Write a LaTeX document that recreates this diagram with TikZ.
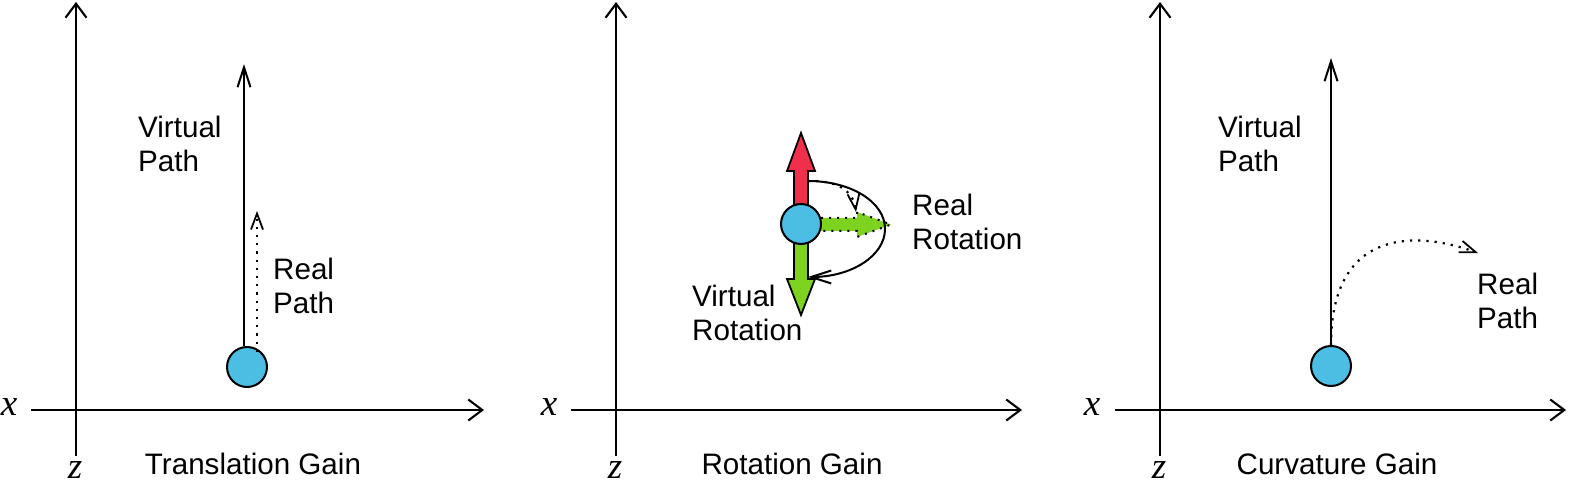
\documentclass[tikz,border=0pt]{standalone}
\usepackage{fontspec}
\setmainfont{Liberation Sans}
\newfontfamily\timesfont{Liberation Serif}
\usetikzlibrary{arrows.meta,calc}
\definecolor{ballblue}{RGB}{76,189,227}
\definecolor{arrred}{RGB}{240,48,75}
\definecolor{arrgreen}{RGB}{126,211,33}
\begin{document}
\begin{tikzpicture}[x=1pt,y=-1pt,
  axisline/.style={line width=2.1pt,-{Straight Barb[length=14pt,width=21pt,line width=2.1pt]}},
  patharrow/.style={line width=2pt,-{Straight Barb[length=20pt,width=13pt,line width=2pt]}},
  dotarrow/.style={line width=2.2pt,dash pattern=on 2.2pt off 6pt,-{Straight Barb[length=16pt,width=12pt,line width=1.8pt]}},
  ball/.style={circle,draw=black,line width=2pt,fill=ballblue,minimum size=40pt,inner sep=0pt},
  blockarrow/.style={draw=black,line width=1.8pt},
  axlabel/.style={font=\timesfont\itshape\fontsize{37}{42}\selectfont,inner sep=0pt},
  lbl/.style={font=\fontsize{29.6}{34}\selectfont,align=left,anchor=base west,inner sep=0pt},
  title/.style={font=\fontsize{29.6}{34}\selectfont,anchor=base,inner sep=0pt}]
\useasboundingbox (0,0) rectangle (1570,486);

% ---------- Panel 1: Translation Gain ----------
\coordinate (p1yb) at (76,456); \coordinate (p1yt) at (76,2);
\coordinate (p1xl) at (31,410); \coordinate (p1xr) at (484,410);
\draw[axisline] (p1yb) -- (p1yt);
\draw[axisline] (p1xl) -- (p1xr);
\node[axlabel] (p1x) at (9,407) {x};
\node[axlabel] (p1z) at (75,470) {z};
\node[title] (p1t) at (253,474) {Translation Gain};
\node[ball] (b1) at (247,367) {};
\coordinate (v1) at (244,64);
\coordinate (r1) at (257,211);
\draw[patharrow] (b1.north -| v1) -- (v1);
\draw[dotarrow] ($(b1.north -| r1)+(0,6)$) -- (r1);
\node[lbl] (p1v) at (138,172) {Virtual\\Path};
\node[lbl] (p1r) at (273,313) {Real\\Path};

% ---------- Panel 2: Rotation Gain ----------
\coordinate (p2yb) at (616,456); \coordinate (p2yt) at (616,2);
\coordinate (p2xl) at (571,410); \coordinate (p2xr) at (1022,410);
\draw[axisline] (p2yb) -- (p2yt);
\draw[axisline] (p2xl) -- (p2xr);
\node[axlabel] (p2x) at (549,407) {x};
\node[axlabel] (p2z) at (615,470) {z};
\node[title] (p2t) at (792,474) {Rotation Gain};
\draw[blockarrow,fill=arrred] (794,215) -- (794,171) -- (787,171) -- (801,133) -- (815,171) -- (808,171) -- (808,215) -- cycle;
\draw[blockarrow,fill=arrgreen] (794,233) -- (794,279) -- (787,279) -- (801,315) -- (815,279) -- (808,279) -- (808,233) -- cycle;
\fill[arrgreen] (812,218) -- (857,218) -- (857,212) -- (891,224.5) -- (857,237) -- (857,231) -- (812,231) -- cycle;
\draw[line width=2pt,dash pattern=on 2pt off 6pt] (821,218) -- (857,218) -- (857,212) -- (891,224.5) -- (857,237) -- (857,231) -- (821,231);
\node[ball] (b2) at (801,224) {};
\coordinate (a2s) at (808,181); \coordinate (a2m) at (885,229); \coordinate (a2e) at (808,277);
\draw[patharrow] (a2s) .. controls (851,181) and (885,202) .. (a2m) .. controls (885,256) and (851,277) .. (a2e);
\coordinate (d2e) at (856,212);
\draw[dotarrow] (a2s) .. controls (836,180) and (853,190) .. (d2e);
\node[lbl] (p2r) at (912,250) {Real\\Rotation};
\node[lbl] (p2v) at (692,340) {Virtual\\Rotation};

% ---------- Panel 3: Curvature Gain ----------
\coordinate (p3yb) at (1160,456); \coordinate (p3yt) at (1160,2);
\coordinate (p3xl) at (1115,410); \coordinate (p3xr) at (1566,410);
\draw[axisline] (p3yb) -- (p3yt);
\draw[axisline] (p3xl) -- (p3xr);
\node[axlabel] (p3x) at (1092,407) {x};
\node[axlabel] (p3z) at (1159,470) {z};
\node[title] (p3t) at (1337,474) {Curvature Gain};
\node[ball] (b3) at (1331,366) {};
\coordinate (v3) at (1331,58);
\coordinate (r3) at (1478,253);
\draw[patharrow] (b3.north) -- (v3);
\draw[dotarrow] (b3.north) .. controls (1331,225) and (1420,232) .. (r3);
\node[lbl] (p3v) at (1218,172) {Virtual\\Path};
\node[lbl] (p3r) at (1477,328) {Real\\Path};
\end{tikzpicture}
\end{document}
